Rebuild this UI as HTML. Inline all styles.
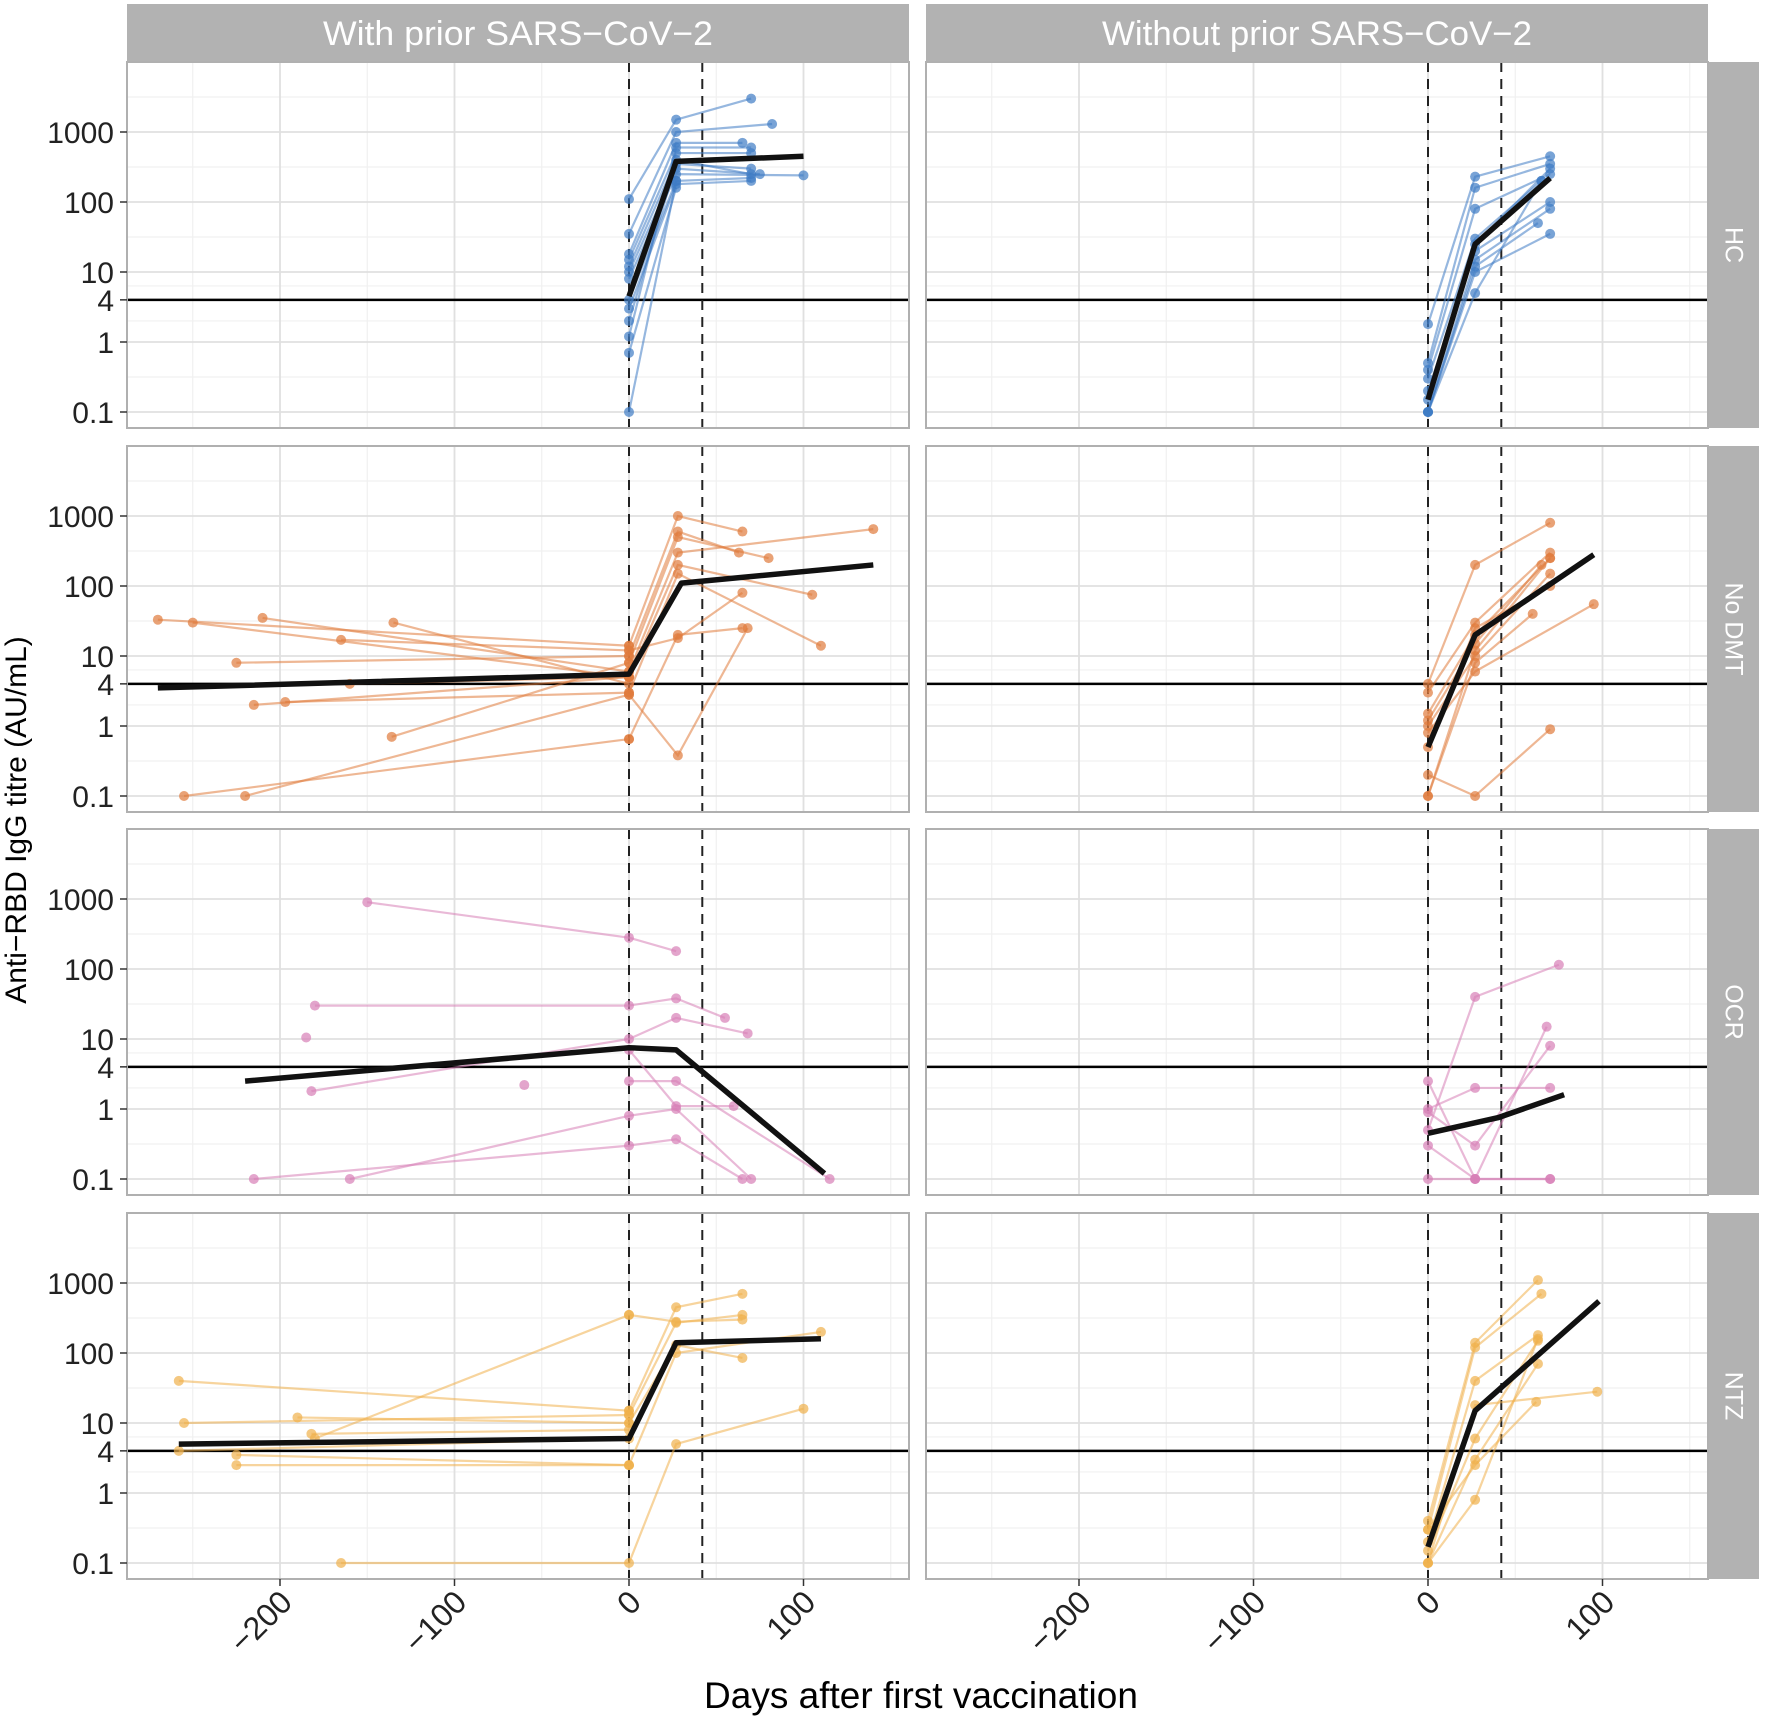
<!DOCTYPE html>
<html><head><meta charset="utf-8"><style>
html,body{margin:0;padding:0;background:#fff;}
svg{display:block;font-family:"Liberation Sans",sans-serif;}
</style></head><body>
<svg id="chart" width="1772" height="1717" viewBox="0 0 1772 1717" xmlns="http://www.w3.org/2000/svg"></svg>
<script>
// ---- data ----
const rowGroups = ["HC", "No DMT", "OCR", "NTZ"];
const colGroups = ["With prior SARS\u2212CoV\u22122", "Without prior SARS\u2212CoV\u22122"];
const rowColors = ["#3f7cc4", "#e07b3c", "#d77fb6", "#f0b04c"];
const yTickValues = [0.1, 1, 4, 10, 100, 1000];
const yTickLabels = ["0.1", "1", "4", "10", "100", "1000"];
const yMinorValues = [0.316, 2, 6.32, 31.6, 316, 3162];
const xTickValues = [-200, -100, 0, 100];
const xTickLabels = ["\u2212200", "\u2212100", "0", "100"];
const xMinorValues = [-250, -150, -50, 50, 150];
const dashedDays = [0, 42];
const thresholdValue = 4;

const hcWith = [
 [[0,110],[27,1500],[70,3000]],[[0,35],[27,1000],[82,1300]],[[0,18],[27,700],[65,700]],
 [[0,15],[27,500],[70,500]],[[0,12],[27,400],[70,250]],[[0,10],[27,300],[75,250]],
 [[0,8],[27,250],[100,240]],[[0,4],[27,200],[70,220]],[[0,3],[27,180],[70,200]],
 [[0,1.2],[27,600],[70,600]],[[0,0.7],[27,160]],[[0,0.1],[27,200]],[[0,2],[27,350],[70,300]]
];
const hcWithout = [
 [[0,1.8],[27,230],[70,450]],[[0,0.5],[27,160],[70,350]],[[0,0.4],[27,80],[70,250]],
 [[0,0.3],[27,30],[65,200]],[[0,0.2],[27,20],[70,100]],[[0,0.1],[27,15],[70,80]],
 [[0,0.1],[27,12],[63,50]],[[0,0.1],[27,10],[70,35]],[[0,0.1],[27,5],[65,200]],[[0,0.15],[27,25],[70,300]]
];
const dmtWith = [
 [[-270,33],[0,14]],[[-250,30],[0,5]],[[-225,8],[0,10]],[[-215,2],[0,5]],[[-210,35],[0,6]],
 [[-197,2.2],[0,3]],[[-165,17],[0,12]],[[-135,30],[0,4]],[[-160,4],[0,5]],[[-136,0.7],[0,8]],
 [[-255,0.1],[0,0.65]],[[-220,0.1],[0,2.8]],
 [[0,14],[28,1000],[65,600]],[[0,10],[28,600],[63,300]],[[0,8],[28,500],[80,250]],
 [[0,6],[28,300],[140,650]],[[0,5],[28,200],[105,75]],[[0,3],[28,150],[110,14]],
 [[0,0.65],[28,20],[65,25]],[[0,2.8],[28,0.38],[68,25]],[[0,12],[28,18],[65,80]]
];
const dmtWithout = [
 [[0,4],[27,200],[70,800]],[[0,3],[27,30],[70,300]],[[0,1.5],[27,20],[70,250]],
 [[0,1.2],[27,15],[65,200]],[[0,1],[27,10],[70,150]],[[0,0.8],[27,6],[95,55]],
 [[0,0.5],[27,25],[70,100]],[[0,0.2],[27,0.1],[70,0.9]],[[0,0.1],[27,12],[70,250]],[[0,0.1],[27,8],[60,40]]
];
const ocrWith = [
 [[-150,900],[0,280],[27,180]],[[-180,30],[0,30],[27,38],[55,20]],[[-185,10.5]],
 [[-182,1.8],[0,10],[27,20],[68,12]],[[-60,2.2]],[[-215,0.1],[0,0.3],[27,0.37],[65,0.1]],
 [[-160,0.1],[0,0.8],[27,1.0],[70,0.1]],[[0,2.5],[27,2.5],[115,0.1]],[[0,7],[27,1.1],[60,1.1]]
];
const ocrWithout = [
 [[0,2.5],[27,0.1],[70,0.1]],[[0,1],[27,2],[70,2]],[[0,0.5],[27,40],[75,115]],
 [[0,0.3],[27,0.1],[68,15]],[[0,0.1],[27,0.1],[70,0.1]],[[0,0.9],[27,0.3],[70,8]]
];
const ntzWith = [
 [[-258,40],[0,15]],[[-255,10],[0,13]],[[-190,12],[0,10]],[[-182,7],[0,8]],[[-258,4],[0,6]],
 [[-225,3.5],[0,2.5]],[[-225,2.5],[0,2.5]],[[-165,0.1],[0,0.1],[27,5],[100,16]],[[-180,6],[0,350]],
 [[0,15],[27,450],[65,700]],[[0,13],[27,270],[65,350]],[[0,10],[27,130],[65,85]],
 [[0,2.5],[27,100],[110,200]],[[0,350],[27,280],[65,300]]
];
const ntzWithout = [
 [[0,0.4],[27,140],[63,1100]],[[0,0.3],[27,120],[65,700]],[[0,0.2],[27,40],[63,180]],
 [[0,0.1],[27,18],[97,28]],[[0,0.15],[27,6],[63,150]],[[0,0.1],[27,3],[63,70]],
 [[0,0.3],[27,2.5],[62,20]],[[0,0.1],[27,0.8],[63,160]]
];
const subjects = [[hcWith, hcWithout],[dmtWith, dmtWithout],[ocrWith, ocrWithout],[ntzWith, ntzWithout]];
const meanHcWith = [[0,4.5],[27,380],[100,450]];
const meanHcWithout = [[0,0.15],[27,25],[70,220]];
const meanDmtWith = [[-270,3.5],[0,5.5],[30,110],[140,200]];
const meanDmtWithout = [[0,0.5],[27,20],[95,280]];
const meanOcrWith = [[-220,2.5],[0,7.5],[27,7],[112,0.12]];
const meanOcrWithout = [[0,0.45],[40,0.75],[78,1.6]];
const meanNtzWith = [[-258,5],[0,6],[27,140],[110,160]];
const meanNtzWithout = [[0,0.17],[27,15],[98,550]];
const means = [[meanHcWith, meanHcWithout],[meanDmtWith, meanDmtWithout],[meanOcrWith, meanOcrWithout],[meanNtzWith, meanNtzWithout]];

// ---- layout ----
const NS = "http://www.w3.org/2000/svg";
const svg = document.getElementById("chart");
const colX0 = [127, 926], panelW = 782;
const stripX = 1708, stripW = 51;
const rowY0 = [62, 446, 829, 1213], panelH = 366;
const xPerDay = 1.745, zeroOffset = 502;
const yPerDecade = 70, lowOffset = 350;
function xScale(c, d){ return colX0[c] + zeroOffset + d * xPerDay; }
function yScale(r, v){ return rowY0[r] + lowOffset - yPerDecade * (Math.log10(v) + 1); }
function mk(tag, attrs, parent){
  const e = document.createElementNS(NS, tag);
  for (const k in attrs) e.setAttribute(k, attrs[k]);
  (parent || svg).appendChild(e);
  return e;
}

for (let c = 0; c < 2; c++){
  const g = mk("g", {});
  
  
  mk("rect", {x: colX0[c], y: 4, width: panelW, height: 58, fill: "#b2b2b2"}, g);
  const t = mk("text", {x: colX0[c] + panelW/2, y: 45, "text-anchor": "middle", "font-size": 34, fill: "#fff", "lengthAdjust": "spacingAndGlyphs"}, g);
  t.setAttribute('textLength', c ? 430 : 390);
  t.textContent = colGroups[c];
}
for (let r = 0; r < 4; r++){
  const g = mk("g", {});
  
  
  mk("rect", {x: stripX, y: rowY0[r], width: stripW, height: panelH, fill: "#b2b2b2"}, g);
  const cx = stripX + stripW/2, cy = rowY0[r] + panelH/2;
  const t = mk("text", {x: cx, y: cy, "text-anchor": "middle", "dominant-baseline": "central", "font-size": 25, fill: "#fff", transform: `rotate(90 ${cx} ${cy})`}, g);
  t.textContent = rowGroups[r];
}

for (let r = 0; r < 4; r++){
  for (let c = 0; c < 2; c++){
    const g = mk("g", {});
    
    
    const x0 = colX0[c], y0 = rowY0[r];
    const clipId = `clip${r}${c}`;
    const cp = mk("clipPath", {id: clipId}, g);
    mk("rect", {x: x0, y: y0, width: panelW, height: panelH}, cp);
    mk("rect", {x: x0, y: y0, width: panelW, height: panelH, fill: "#fff"}, g);
    for (const v of yMinorValues) mk("line", {x1: x0, x2: x0+panelW, y1: yScale(r,v), y2: yScale(r,v), stroke: "#f0f0f0", "stroke-width": 1.2}, g);
    for (const d of xMinorValues) mk("line", {x1: xScale(c,d), x2: xScale(c,d), y1: y0, y2: y0+panelH, stroke: "#f0f0f0", "stroke-width": 1.2}, g);
    for (const v of yTickValues) mk("line", {x1: x0, x2: x0+panelW, y1: yScale(r,v), y2: yScale(r,v), stroke: "#e0e0e0", "stroke-width": 1.8}, g);
    for (const d of xTickValues) mk("line", {x1: xScale(c,d), x2: xScale(c,d), y1: y0, y2: y0+panelH, stroke: "#e0e0e0", "stroke-width": 1.8}, g);
    const tl = mk("line", {x1: x0, x2: x0+panelW, y1: yScale(r,thresholdValue), y2: yScale(r,thresholdValue), stroke: "#000", "stroke-width": 2.5}, g);
    
    
    for (const d of dashedDays){
      const dl = mk("line", {x1: xScale(c,d), x2: xScale(c,d), y1: y0, y2: y0+panelH, stroke: "#222", "stroke-width": 2, "stroke-dasharray": "10 7"}, g);
      
      
    }
    const dg = mk("g", {"clip-path": `url(#${clipId})`}, g);
    const col = rowColors[r];
    subjects[r][c].forEach((s, i) => {
      const sg = mk("g", {}, dg);
      
      
      if (s.length > 1){
        mk("polyline", {points: s.map(p => xScale(c,p[0]) + "," + yScale(r,p[1])).join(" "), fill: "none", stroke: col, "stroke-width": 2.2, "stroke-opacity": 0.55}, sg);
      }
      for (const p of s){
        const pt = mk("circle", {cx: xScale(c,p[0]), cy: yScale(r,p[1]), r: 5, fill: col, "fill-opacity": 0.7}, sg);
        
        
      }
    });
    const m = means[r][c];
    const ml = mk("polyline", {points: m.map(p => xScale(c,p[0]) + "," + yScale(r,p[1])).join(" "), fill: "none", stroke: "#111", "stroke-width": 5.5, "stroke-linejoin": "round"}, dg);
    
    
    mk("rect", {x: x0, y: y0, width: panelW, height: panelH, fill: "none", stroke: "#b0b0b0", "stroke-width": 2}, g);
  }
  const yg = mk("g", {});
  
  
  yTickValues.forEach((v, i) => {
    const y = yScale(r, v);
    mk("line", {x1: 120, x2: 127, y1: y, y2: y, stroke: "#333", "stroke-width": 1.5}, yg);
    const t = mk("text", {x: 114, y: y + 11, "text-anchor": "end", "font-size": 30, fill: "#222"}, yg);
    t.textContent = yTickLabels[i];
  });
}
for (let c = 0; c < 2; c++){
  const xg = mk("g", {});
  
  
  xTickValues.forEach((d, i) => {
    const x = xScale(c, d);
    mk("line", {x1: x, x2: x, y1: 1579, y2: 1586, stroke: "#333", "stroke-width": 1.5}, xg);
    const tx = x + 14, ty = 1604;
    const t = mk("text", {x: tx, y: ty, "text-anchor": "end", "font-size": 32, fill: "#222", transform: `rotate(-45 ${tx} ${ty})`}, xg);
    t.textContent = xTickLabels[i];
  });
}
const xt = mk("text", {x: 921, y: 1708, "text-anchor": "middle", "font-size": 37, fill: "#000"});


xt.textContent = "Days after first vaccination";
const yt = mk("text", {x: 26, y: 820, "text-anchor": "middle", "font-size": 30, fill: "#000", transform: "rotate(-90 26 820)"});


yt.textContent = "Anti\u2212RBD IgG titre (AU/mL)";
</script>
</body></html>
